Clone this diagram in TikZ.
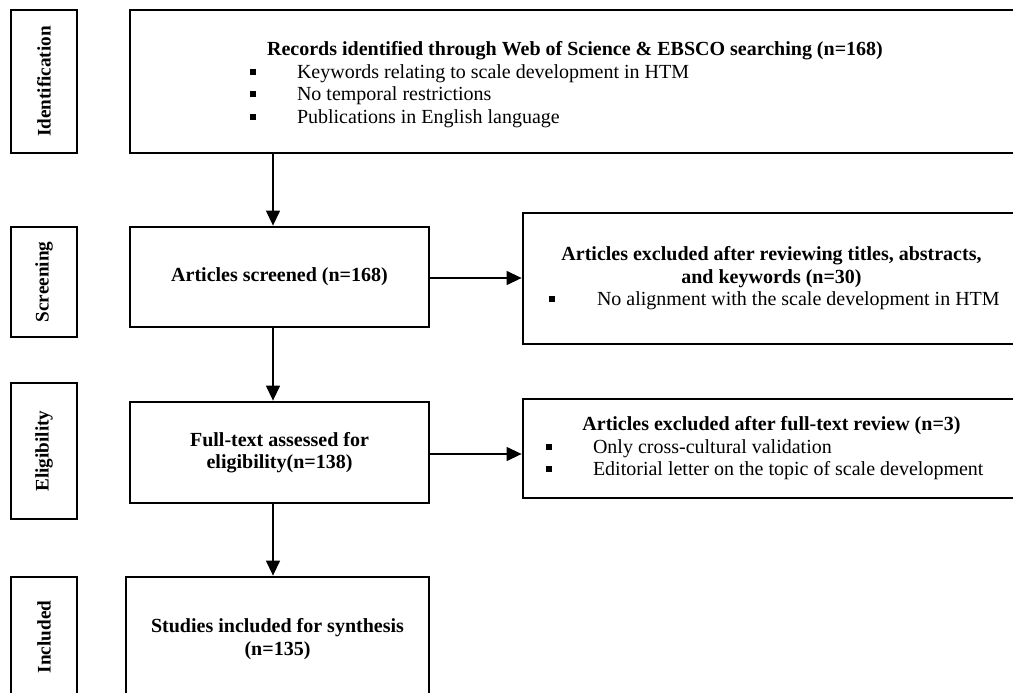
\documentclass[tikz,border=0pt]{standalone}
\usepackage{fontspec}
\setmainfont{Liberation Serif}
\usepackage{tikz}
\usetikzlibrary{arrows.meta}
\tikzstyle{stage} = [rectangle, draw=black, line width=2.8pt, minimum width=66pt, inner sep=0pt, rotate=90, font=\fontsize{19.2}{22.5}\selectfont\bfseries]
\tikzstyle{mainbox} = [rectangle, draw=black, line width=2.8pt, inner sep=0pt, font=\fontsize{20}{22.5}\selectfont]
\tikzstyle{arrow} = [line width=1.3pt, -{Triangle[width=14pt, length=15pt]}]
\newcommand{\sqbullet}{\rule[3.5pt]{6pt}{6pt}}

\begin{document}
\begin{tikzpicture}[x=1pt, y=1pt, node distance=235.5pt]
\useasboundingbox (0,0) rectangle (1013,-693);
\clip (0,0) rectangle (1013,-693);

% stages on the left
\node (ident) 	[stage, minimum height=66pt, minimum width=143pt] at (44,-81.5)	{Identification};
\node (screen)	[stage, minimum height=66pt, minimum width=110pt] at (44,-282)	{Screening};
\node (elig)	[stage, minimum height=66pt, minimum width=136pt] at (44,-451)	{Eligibility};
\node (incl)	[stage, minimum height=66pt, minimum width=120pt] at (44,-637)	{Included};

% main column
\node (records)	[mainbox, minimum width=890pt, minimum height=143pt, right of=ident, xshift=295.5pt] {\begin{minipage}{890pt}\vspace*{6pt}\centering\textbf{Records identified through Web of Science \& EBSCO searching (n=168)}\par\raggedright
\hspace*{120pt}\sqbullet\hspace*{41pt}Keywords relating to scale development in HTM\par
\hspace*{120pt}\sqbullet\hspace*{41pt}No temporal restrictions\par
\hspace*{120pt}\sqbullet\hspace*{41pt}Publications in English language\par\end{minipage}};
\node (screened)	[mainbox, minimum width=299pt, minimum height=100pt, right of=screen, yshift=5pt] {\textbf{Articles screened (n=168)}};
\node (fulltext)	[mainbox, minimum width=299pt, minimum height=101pt, right of=elig, yshift=-1.5pt, align=center] {\textbf{Full-text assessed for}\\\textbf{eligibility(n=138)}};
\node (studies)	[mainbox, minimum width=303pt, minimum height=124pt, right of=incl, xshift=-2pt, yshift=-2pt, align=center] {\textbf{Studies included for synthesis}\\\textbf{(n=135)}};

% excluded on the right
\node (excl1)	[mainbox, minimum width=497pt, minimum height=131pt, right of=screened, xshift=256.5pt, yshift=-1.5pt] {\begin{minipage}{497pt}\centering\textbf{Articles excluded after reviewing titles, abstracts,}\\\textbf{and keywords (n=30)}\par\raggedright
\hspace*{26pt}\sqbullet\hspace*{42pt}No alignment with the scale development in HTM\par\end{minipage}};
\node (excl2)	[mainbox, minimum width=497pt, minimum height=99pt, right of=fulltext, xshift=256.5pt, yshift=4pt] {\begin{minipage}{497pt}\centering\textbf{Articles excluded after full-text review (n=3)}\par\raggedright
\hspace*{23pt}\sqbullet\hspace*{41pt}Only cross-cultural validation\par
\hspace*{23pt}\sqbullet\hspace*{41pt}Editorial letter on the topic of scale development\par\end{minipage}};

\coordinate (spine) at (273,0);

\draw [arrow] (records.south -| spine) -- (screened.north -| spine);
\draw [arrow] (screened.south -| spine) -- (fulltext.north -| spine);
\draw [arrow] (fulltext.south -| spine) -- (studies.north -| spine);
\draw [arrow] ([yshift=-1pt]screened.east) -- ([yshift=-1pt]screened.east -| excl1.west);
\draw [arrow] ([yshift=-1.5pt]fulltext.east) -- ([yshift=-1.5pt]fulltext.east -| excl2.west);

\end{tikzpicture}
\end{document}
